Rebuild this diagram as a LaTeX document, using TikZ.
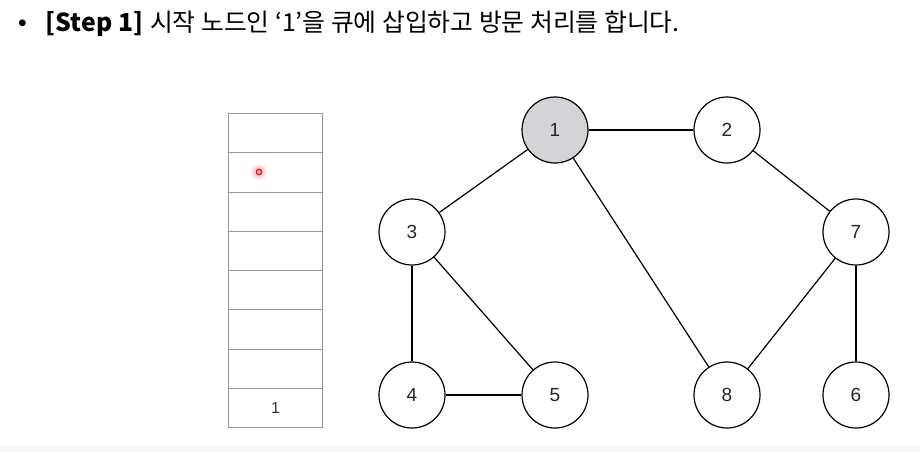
\documentclass[tikz,border=0pt]{standalone}
\usepackage{fontspec}
\setmainfont{Liberation Sans}
\newfontfamily\krfont{Noto Sans CJK KR}
\newfontfamily\krmed{Noto Sans CJK KR Medium}
\definecolor{visited}{RGB}{212,211,215}
\definecolor{qline}{RGB}{150,150,150}
\definecolor{band}{RGB}{248,248,248}
\definecolor{laser}{RGB}{240,20,20}
\begin{document}
\begin{tikzpicture}[x=1pt,y=-1pt,
  vtx/.style={circle,draw=black,line width=1.2pt,minimum size=66pt,inner sep=0pt,fill=white,font=\fontsize{19}{19}\selectfont\color{black!85}},
  edge/.style={line width=1.2pt,draw=black},
  qcell/.style={draw=qline,line width=0.9pt,minimum width=94pt,minimum height=39.25pt,inner sep=0pt,anchor=north west,font=\fontsize{16}{16}\selectfont\color{black!80}}]
\useasboundingbox (0,0) rectangle (920,452);
\fill[band] (0,446) rectangle (920,452);
% title
\node[anchor=west,inner sep=0pt] (title) at (18,24) {\fontsize{24.8}{27}\selectfont •\hspace{19pt}{\krmed\fontseries{b}\selectfont[Step 1]}\ {\krfont 시작 노드인 ‘1’을 큐에 삽입하고 방문 처리를 합니다.}};
% queue
\foreach \i in {0,...,6} {
  \node[qcell] (q\i) at (228,{113+39.25*\i}) {};
}
\node[qcell] (q7) at (228,{113+39.25*7}) {1};
% laser pointer
\fill[laser,opacity=0.08] (259,172) circle (8pt);
\fill[laser,opacity=0.12] (259,172) circle (6pt);
\draw[laser,line width=1.4pt] (259,172) circle (2.6pt);
% graph nodes
\node[vtx,fill=visited] (n1) at (555,130) {1};
\node[vtx] (n2) at (727,130) {2};
\node[vtx] (n3) at (412,232) {3};
\node[vtx] (n7) at (856,232) {7};
\node[vtx] (n4) at (412,395) {4};
\node[vtx] (n5) at (555,395) {5};
\node[vtx] (n8) at (727,395) {8};
\node[vtx] (n6) at (856,395) {6};
\draw[edge] (n1) -- (n2);
\draw[edge] (n1) -- (n3);
\draw[edge] (n1) -- (n8);
\draw[edge] (n2) -- (n7);
\draw[edge] (n3) -- (n4);
\draw[edge] (n3) -- (n5);
\draw[edge] (n4) -- (n5);
\draw[edge] (n7) -- (n8);
\draw[edge] (n7) -- (n6);
\end{tikzpicture}
\end{document}
